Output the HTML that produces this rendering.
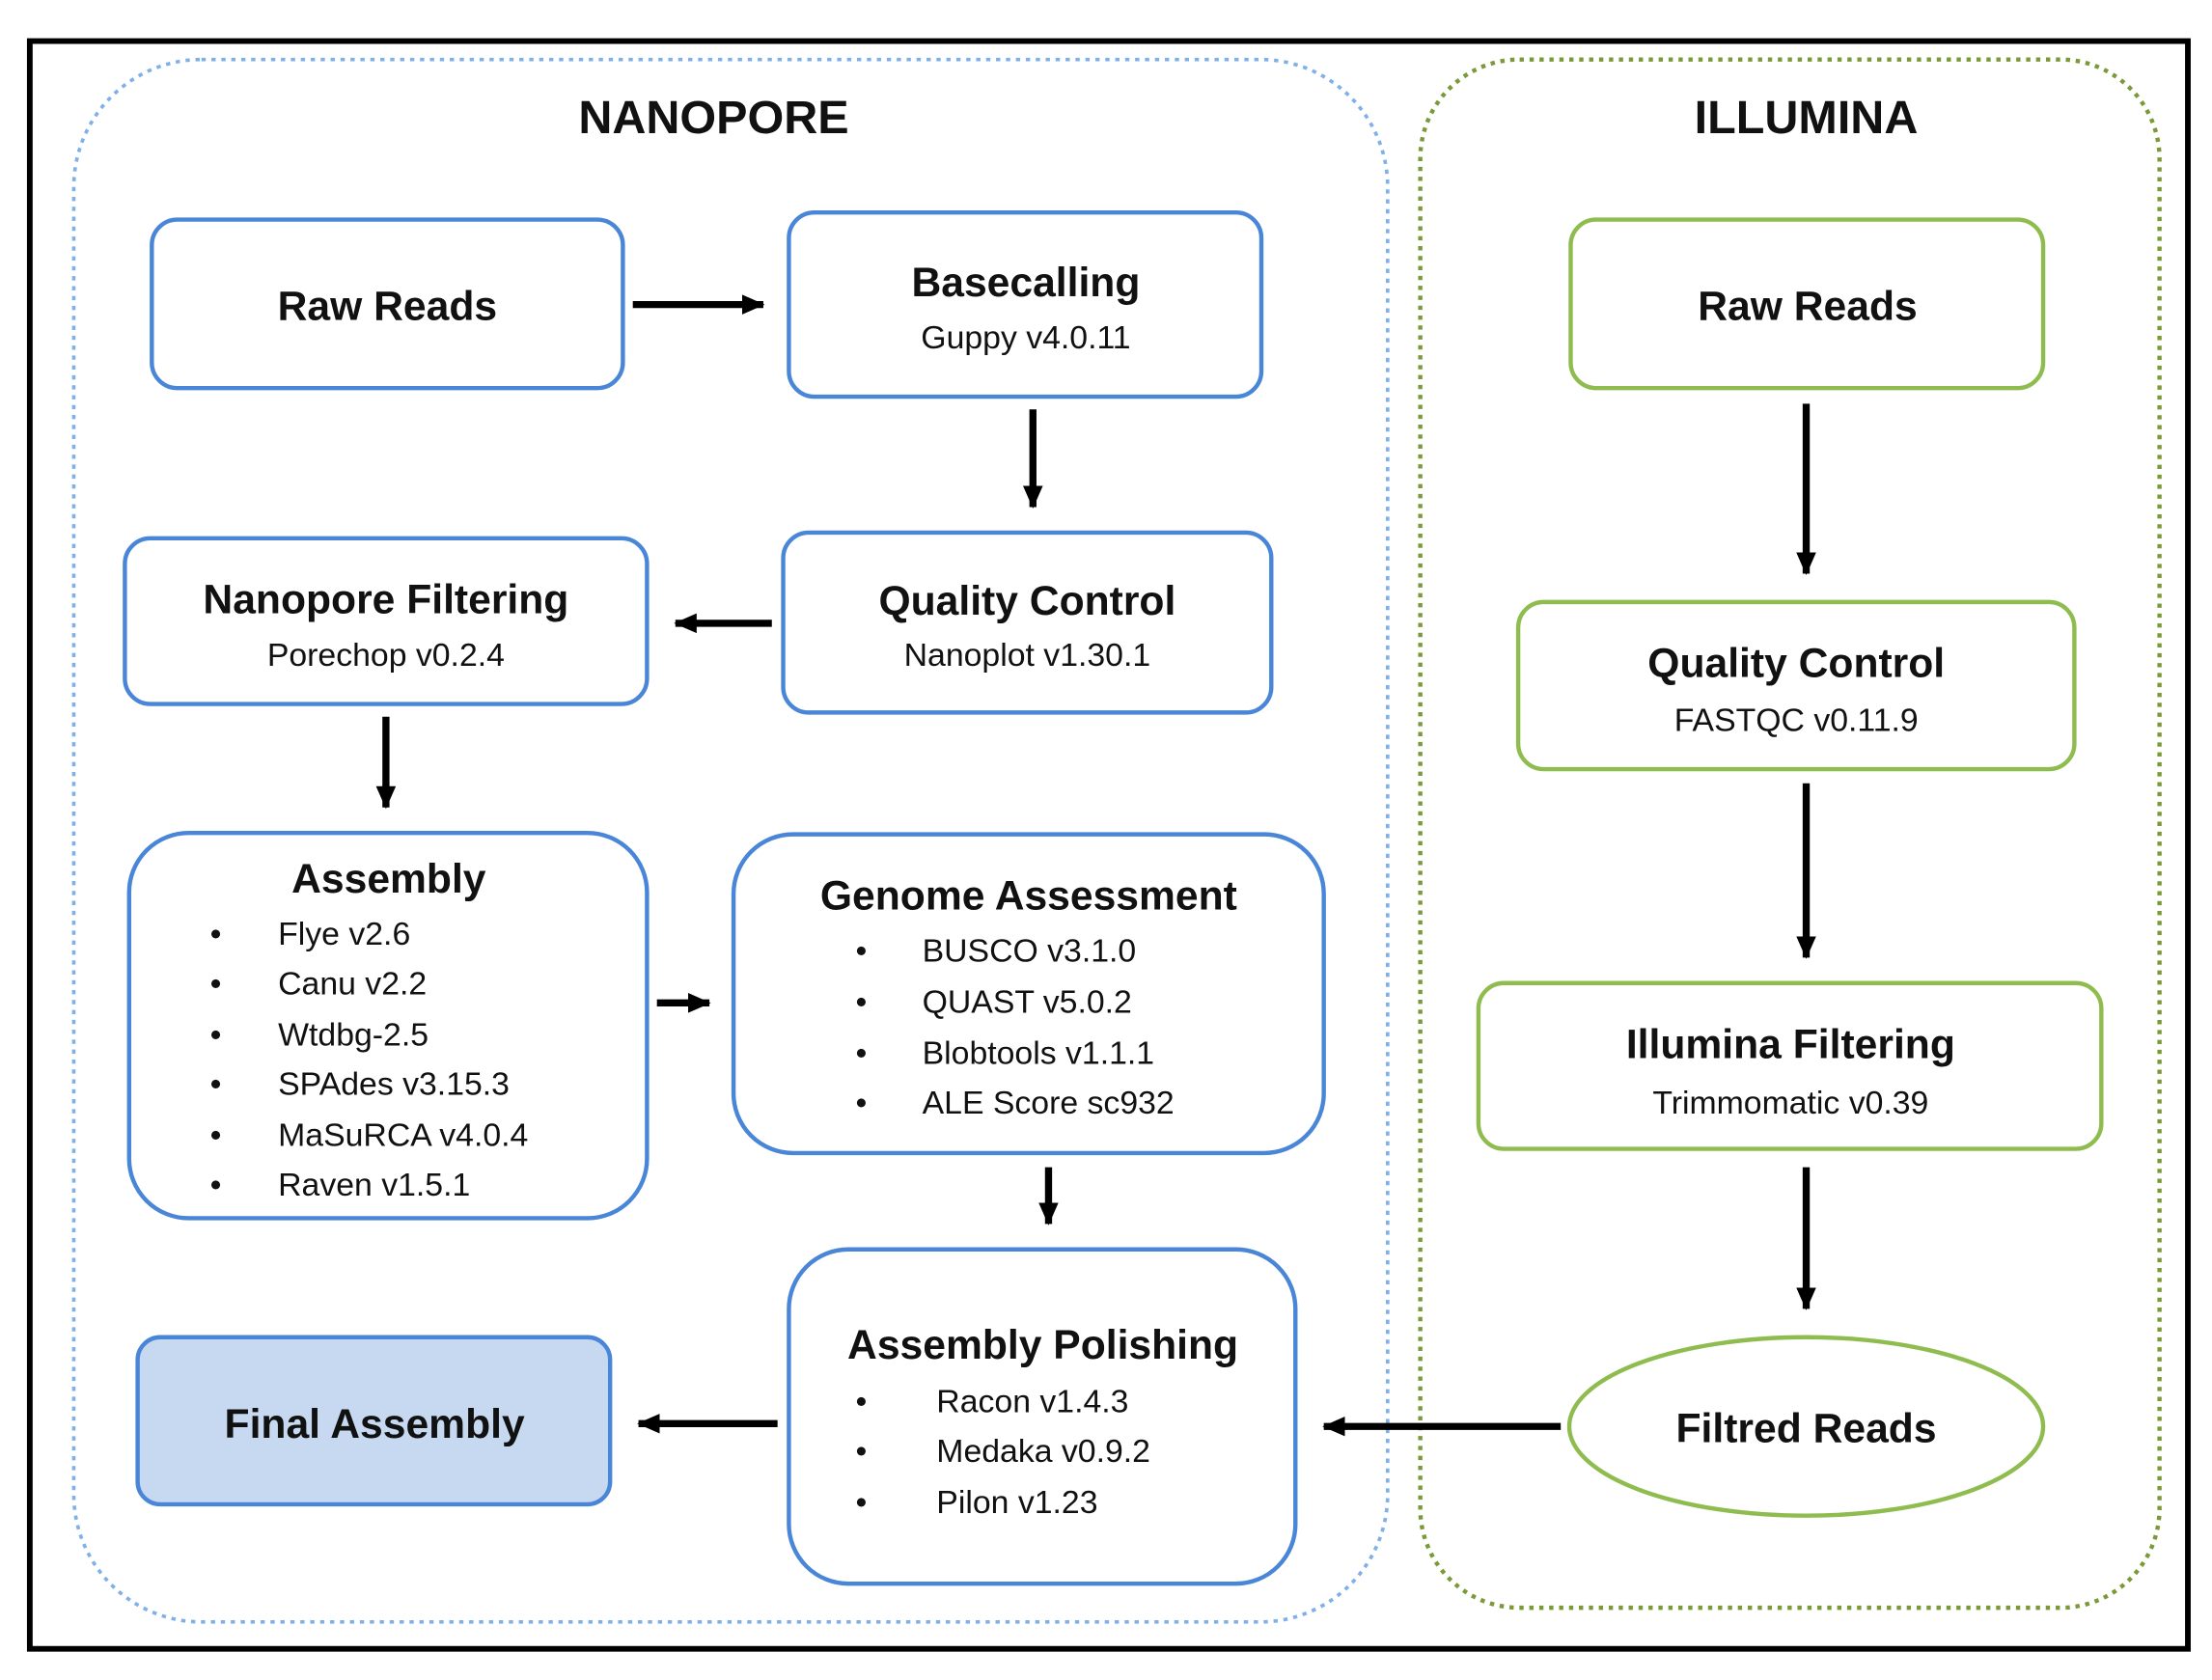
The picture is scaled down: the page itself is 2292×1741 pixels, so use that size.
<!DOCTYPE html>
<html><head><meta charset="utf-8"><style>
html,body{margin:0;padding:0;background:#fff;}
svg{display:block;}
text{font-family:"Liberation Sans",sans-serif;fill:#111;}
.t{font-weight:bold;font-size:29px;text-anchor:middle;}
.s{font-size:23px;text-anchor:middle;}
.l{font-size:23px;}
.b{fill:none;stroke:#4a86d8;stroke-width:3;}
.g{fill:none;stroke:#8fbc4f;stroke-width:3;}
.a{stroke:#000;stroke-width:5;marker-end:url(#ah);}
</style></head><body>
<svg width="2292" height="1741" viewBox="0 0 1559 1186" preserveAspectRatio="none" xmlns="http://www.w3.org/2000/svg">
<defs><marker id="ah" markerWidth="4" markerHeight="4" refX="3" refY="2" orient="auto" markerUnits="strokeWidth"><path d="M0,0.6 L3.2,2 L0,3.4 Z" fill="#000"/></marker></defs>
<rect x="0" y="0" width="1559" height="1186" fill="#fff"/>
<rect x="21" y="29" width="1521" height="1135" fill="none" stroke="#000" stroke-width="4"/>
<rect x="52" y="42" width="926" height="1103" rx="90" fill="none" stroke="#7fb0e8" stroke-width="2.5" stroke-dasharray="3,4"/>
<rect x="1001" y="42" width="521" height="1093" rx="70" fill="none" stroke="#7a9a3a" stroke-width="3" stroke-dasharray="3,4"/>
<text x="503" y="94" class="t" style="font-size:33px">NANOPORE</text>
<text x="1273" y="94" class="t" style="font-size:33px">ILLUMINA</text>

<rect x="107" y="155" width="332" height="119" rx="18" class="b"/>
<text x="273" y="226" class="t">Raw Reads</text>
<rect x="556" y="150" width="333" height="130" rx="18" class="b"/>
<text x="723" y="209" class="t">Basecalling</text>
<text x="723" y="246" class="s">Guppy v4.0.11</text>
<rect x="88" y="380" width="368" height="117" rx="18" class="b"/>
<text x="272" y="433" class="t">Nanopore Filtering</text>
<text x="272" y="470" class="s">Porechop v0.2.4</text>
<rect x="552" y="376" width="344" height="127" rx="18" class="b"/>
<text x="724" y="434" class="t">Quality Control</text>
<text x="724" y="470" class="s">Nanoplot v1.30.1</text>

<rect x="91" y="588" width="365" height="272" rx="42" class="b"/>
<text x="274" y="630" class="t">Assembly</text>
<g class="l"><text x="148" y="667">•</text><text x="196" y="667">Flye v2.6</text>
<text x="148" y="702">•</text><text x="196" y="702">Canu v2.2</text>
<text x="148" y="738">•</text><text x="196" y="738">Wtdbg-2.5</text>
<text x="148" y="773">•</text><text x="196" y="773">SPAdes v3.15.3</text>
<text x="148" y="809">•</text><text x="196" y="809">MaSuRCA v4.0.4</text>
<text x="148" y="844">•</text><text x="196" y="844">Raven v1.5.1</text></g>

<rect x="517" y="589" width="416" height="225" rx="42" class="b"/>
<text x="725" y="642" class="t">Genome Assessment</text>
<g class="l"><text x="603" y="679">•</text><text x="650" y="679">BUSCO v3.1.0</text>
<text x="603" y="715">•</text><text x="650" y="715">QUAST v5.0.2</text>
<text x="603" y="751">•</text><text x="650" y="751">Blobtools v1.1.1</text>
<text x="603" y="786">•</text><text x="650" y="786">ALE Score sc932</text></g>

<rect x="556" y="882" width="357" height="236" rx="42" class="b"/>
<text x="735" y="959" class="t">Assembly Polishing</text>
<g class="l"><text x="603" y="997">•</text><text x="660" y="997">Racon v1.4.3</text>
<text x="603" y="1032">•</text><text x="660" y="1032">Medaka v0.9.2</text>
<text x="603" y="1068">•</text><text x="660" y="1068">Pilon v1.23</text></g>

<rect x="97" y="944" width="333" height="118" rx="16" fill="#c6d9f1" stroke="#4a86d8" stroke-width="3"/>
<text x="264" y="1015" class="t">Final Assembly</text>

<rect x="1107" y="155" width="333" height="119" rx="18" class="g"/>
<text x="1274" y="226" class="t">Raw Reads</text>
<rect x="1070" y="425" width="392" height="118" rx="18" class="g"/>
<text x="1266" y="478" class="t">Quality Control</text>
<text x="1266" y="516" class="s">FASTQC v0.11.9</text>
<rect x="1042" y="694" width="439" height="117" rx="18" class="g"/>
<text x="1262" y="747" class="t">Illumina Filtering</text>
<text x="1262" y="786" class="s">Trimmomatic v0.39</text>
<ellipse cx="1273" cy="1007" rx="167" ry="63" class="g"/>
<text x="1273" y="1018" class="t">Filtred Reads</text>

<line x1="446" y1="215" x2="538" y2="215" class="a"/>
<line x1="728" y1="289" x2="728" y2="358" class="a"/>
<line x1="544" y1="440" x2="476" y2="440" class="a"/>
<line x1="272" y1="506" x2="272" y2="570" class="a"/>
<line x1="463" y1="708" x2="500" y2="708" class="a"/>
<line x1="739" y1="824" x2="739" y2="864" class="a"/>
<line x1="548" y1="1005" x2="450" y2="1005" class="a"/>
<line x1="1100" y1="1007" x2="933" y2="1007" class="a"/>
<line x1="1273" y1="285" x2="1273" y2="405" class="a"/>
<line x1="1273" y1="553" x2="1273" y2="676" class="a"/>
<line x1="1273" y1="824" x2="1273" y2="924" class="a"/>
</svg>
</body></html>
